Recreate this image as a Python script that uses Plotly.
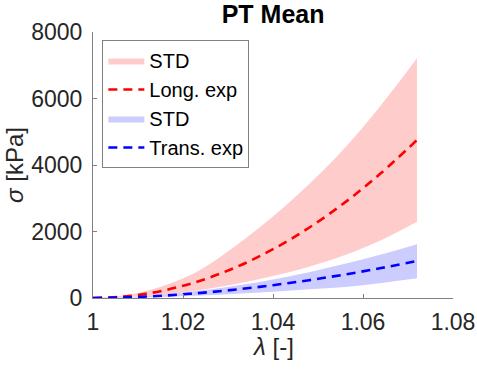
import plotly.graph_objects as go

# stretch ratio
lam = [1.000, 1.008, 1.016, 1.024, 1.032, 1.040, 1.048, 1.056, 1.064, 1.072]

# Longitudinal experiment (kPa)
long_mean = [0, 59, 235, 528, 939, 1467, 2113, 2876, 3756, 4752]
long_upper = [0, 95, 380, 860, 1600, 2450, 3420, 4520, 5800, 7209]
long_lower = [0, 27, 105, 240, 430, 660, 940, 1290, 1740, 2295]

# Transverse experiment (kPa)
trans_mean = [0, 21, 74, 154, 258, 386, 536, 708, 900, 1113]
trans_upper = [0, 30, 107, 223, 374, 560, 777, 1027, 1305, 1615]
trans_lower = [0, 10, 36, 75, 125, 190, 260, 330, 450, 592]

x_ticks = [1, 1.02, 1.04, 1.06, 1.08]
x_ticklabels = ["1", "1.02", "1.04", "1.06", "1.08"]
y_ticks = [0, 2000, 4000, 6000, 8000]

FONT = "Arial, Liberation Sans, sans-serif"
AX = "#808080"
TXT = "#262626"

fig = go.Figure()
# red band
fig.add_trace(go.Scatter(x=lam, y=long_lower, mode="lines", line=dict(width=0, shape="spline"),
                         showlegend=False, hoverinfo="skip"))
fig.add_trace(go.Scatter(x=lam, y=long_upper, mode="lines", line=dict(width=0, shape="spline"),
                         fill="tonexty", fillcolor="rgb(255,204,204)", name="STD"))
fig.add_trace(go.Scatter(x=lam, y=long_mean, mode="lines",
                         line=dict(color="#FF0000", width=2.6, dash="9px,6px", shape="spline"),
                         name="Long. exp"))
# blue band
fig.add_trace(go.Scatter(x=lam, y=trans_lower, mode="lines", line=dict(width=0, shape="spline"),
                         showlegend=False, hoverinfo="skip"))
fig.add_trace(go.Scatter(x=lam, y=trans_upper, mode="lines", line=dict(width=0, shape="spline"),
                         fill="tonexty", fillcolor="rgb(204,204,255)", name="STD"))
fig.add_trace(go.Scatter(x=lam, y=trans_mean, mode="lines",
                         line=dict(color="#0000FF", width=2.6, dash="9px,6px", shape="spline"),
                         name="Trans. exp"))

fig.update_layout(
    width=477, height=372,
    margin=dict(l=93, r=24, t=32, b=74, autoexpand=False),
    paper_bgcolor="white", plot_bgcolor="white",
    font=dict(family=FONT, size=21, color=TXT),
    title=dict(text="<b>PT Mean</b>", x=0.5725, xanchor="center", y=0.985, yanchor="top",
               font=dict(size=25, color="black")),
    showlegend=True,
    legend=dict(x=0.026, y=0.97, xanchor="left", yanchor="top", traceorder="normal",
                bgcolor="white", bordercolor=AX, borderwidth=1,
                font=dict(size=20, color="black"), tracegroupgap=0,
                itemwidth=36),
    xaxis=dict(range=[1, 1.08], tickvals=x_ticks, ticktext=x_ticklabels, automargin=False,
               showgrid=False, zeroline=False, showline=True, linecolor=AX, linewidth=1,
               ticks="inside", ticklen=4, tickcolor=AX, ticklabelstandoff=3,
               tickfont=dict(size=23, color=TXT)),
    yaxis=dict(range=[0, 8000], tickvals=y_ticks, automargin=False,
               showgrid=False, zeroline=False, showline=True, linecolor=AX, linewidth=1,
               ticks="inside", ticklen=4, tickcolor=AX, ticklabelstandoff=5,
               tickfont=dict(size=23, color=TXT),
               title=dict(text="<i>σ</i> [kPa]", font=dict(size=24, color=TXT), standoff=0)),
    annotations=[dict(text="<i>λ</i> [-]", xref="paper", yref="paper", x=0.5, y=-0.183,
                      xanchor="center", yanchor="middle", showarrow=False,
                      font=dict(size=24, color=TXT))],
)

fig.write_html("out.html", config={"displayModeBar": False},
               post_script="document.body.style.margin='0';")
